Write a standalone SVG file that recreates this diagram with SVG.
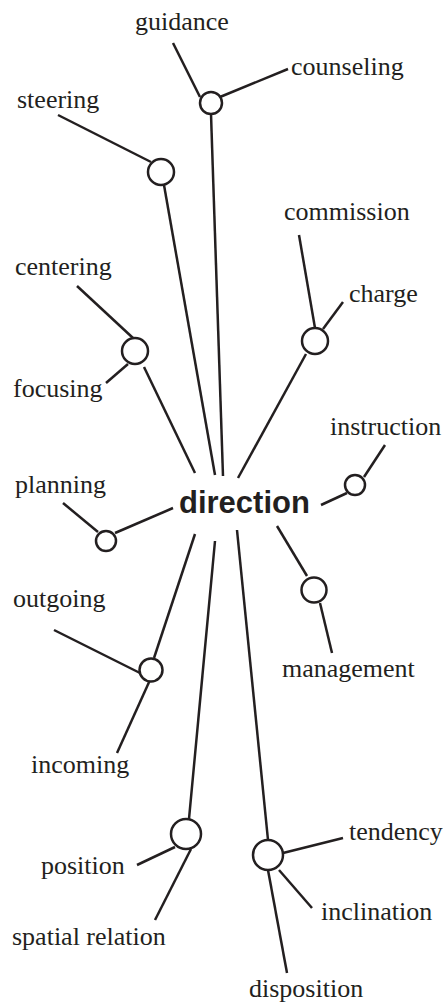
<svg xmlns="http://www.w3.org/2000/svg" width="443" height="1004" viewBox="0 0 443 1004">
<style>
.l{font-family:'Liberation Serif','DejaVu Serif',serif;font-size:26px;fill:#231f20}
.c{font-family:'Liberation Sans',Arial,Helvetica,sans-serif;font-size:31px;font-weight:bold;fill:#231f20}
line{stroke:#231f20;stroke-width:2.5;stroke-linecap:butt}
circle{fill:#fff;stroke:#231f20;stroke-width:2.5}
</style>
<rect width="443" height="1004" fill="#fff"/>
<g id="connectors">
<line x1="211" y1="114" x2="223" y2="476"/>
<line x1="173" y1="43" x2="200" y2="97"/>
<line x1="220" y1="97" x2="288" y2="69"/>
<line x1="58" y1="115" x2="151" y2="162"/>
<line x1="164" y1="185" x2="215" y2="475"/>
<line x1="299" y1="235" x2="315" y2="328"/>
<line x1="77" y1="286" x2="133" y2="338"/>
<line x1="128" y1="364" x2="106" y2="383"/>
<line x1="144" y1="367" x2="195" y2="473"/>
<line x1="323" y1="329" x2="343" y2="302"/>
<line x1="306" y1="354" x2="238" y2="478"/>
<line x1="385" y1="445" x2="364" y2="477"/>
<line x1="347" y1="493" x2="321" y2="505"/>
<line x1="63" y1="503" x2="98" y2="532"/>
<line x1="115" y1="533" x2="173" y2="508"/>
<line x1="195" y1="534" x2="154" y2="658"/>
<line x1="54" y1="630" x2="140" y2="673"/>
<line x1="150" y1="680" x2="117" y2="753"/>
<line x1="215" y1="541" x2="189" y2="819"/>
<line x1="237" y1="530" x2="268" y2="840"/>
<line x1="277" y1="526" x2="307" y2="576"/>
<line x1="320" y1="603" x2="332" y2="653"/>
<line x1="175" y1="847" x2="137" y2="865"/>
<line x1="191" y1="849" x2="155" y2="920"/>
<line x1="283" y1="853" x2="343" y2="838"/>
<line x1="279" y1="870" x2="312" y2="908"/>
<line x1="268" y1="870" x2="287" y2="973"/>
</g>
<g id="direction"><text class="c" x="179" y="513">direction</text></g>
<g id="n-guidance-counseling"><circle cx="211" cy="103" r="11"/></g>
<g id="n-steering"><circle cx="161" cy="172" r="13"/></g>
<g id="n-centering-focusing"><circle cx="135" cy="351" r="13"/></g>
<g id="n-commission-charge"><circle cx="315" cy="341" r="13"/></g>
<g id="n-instruction"><circle cx="355" cy="485" r="10"/></g>
<g id="n-planning"><circle cx="106" cy="541" r="10"/></g>
<g id="n-outgoing-incoming"><circle cx="151" cy="670" r="11.5"/></g>
<g id="n-management"><circle cx="314" cy="590" r="12.5"/></g>
<g id="n-position"><circle cx="186" cy="834" r="15"/></g>
<g id="n-disposition"><circle cx="268" cy="855" r="15"/></g>
<g id="guidance"><text class="l" x="135" y="30">guidance</text></g>
<g id="counseling"><text class="l" x="291" y="75">counseling</text></g>
<g id="steering"><text class="l" x="17" y="108">steering</text></g>
<g id="commission"><text class="l" x="284" y="220">commission</text></g>
<g id="centering"><text class="l" x="15" y="275">centering</text></g>
<g id="charge"><text class="l" x="349" y="302">charge</text></g>
<g id="focusing"><text class="l" x="13" y="397">focusing</text></g>
<g id="instruction"><text class="l" x="330" y="435">instruction</text></g>
<g id="planning"><text class="l" x="15" y="493">planning</text></g>
<g id="outgoing"><text class="l" x="13" y="607">outgoing</text></g>
<g id="management"><text class="l" x="282" y="677">management</text></g>
<g id="incoming"><text class="l" x="31" y="773">incoming</text></g>
<g id="tendency"><text class="l" x="349" y="840">tendency</text></g>
<g id="position"><text class="l" x="41" y="874">position</text></g>
<g id="inclination"><text class="l" x="321" y="920">inclination</text></g>
<g id="spatial-relation"><text class="l" x="12" y="945">spatial relation</text></g>
<g id="disposition"><text class="l" x="249" y="997">disposition</text></g>
</svg>
